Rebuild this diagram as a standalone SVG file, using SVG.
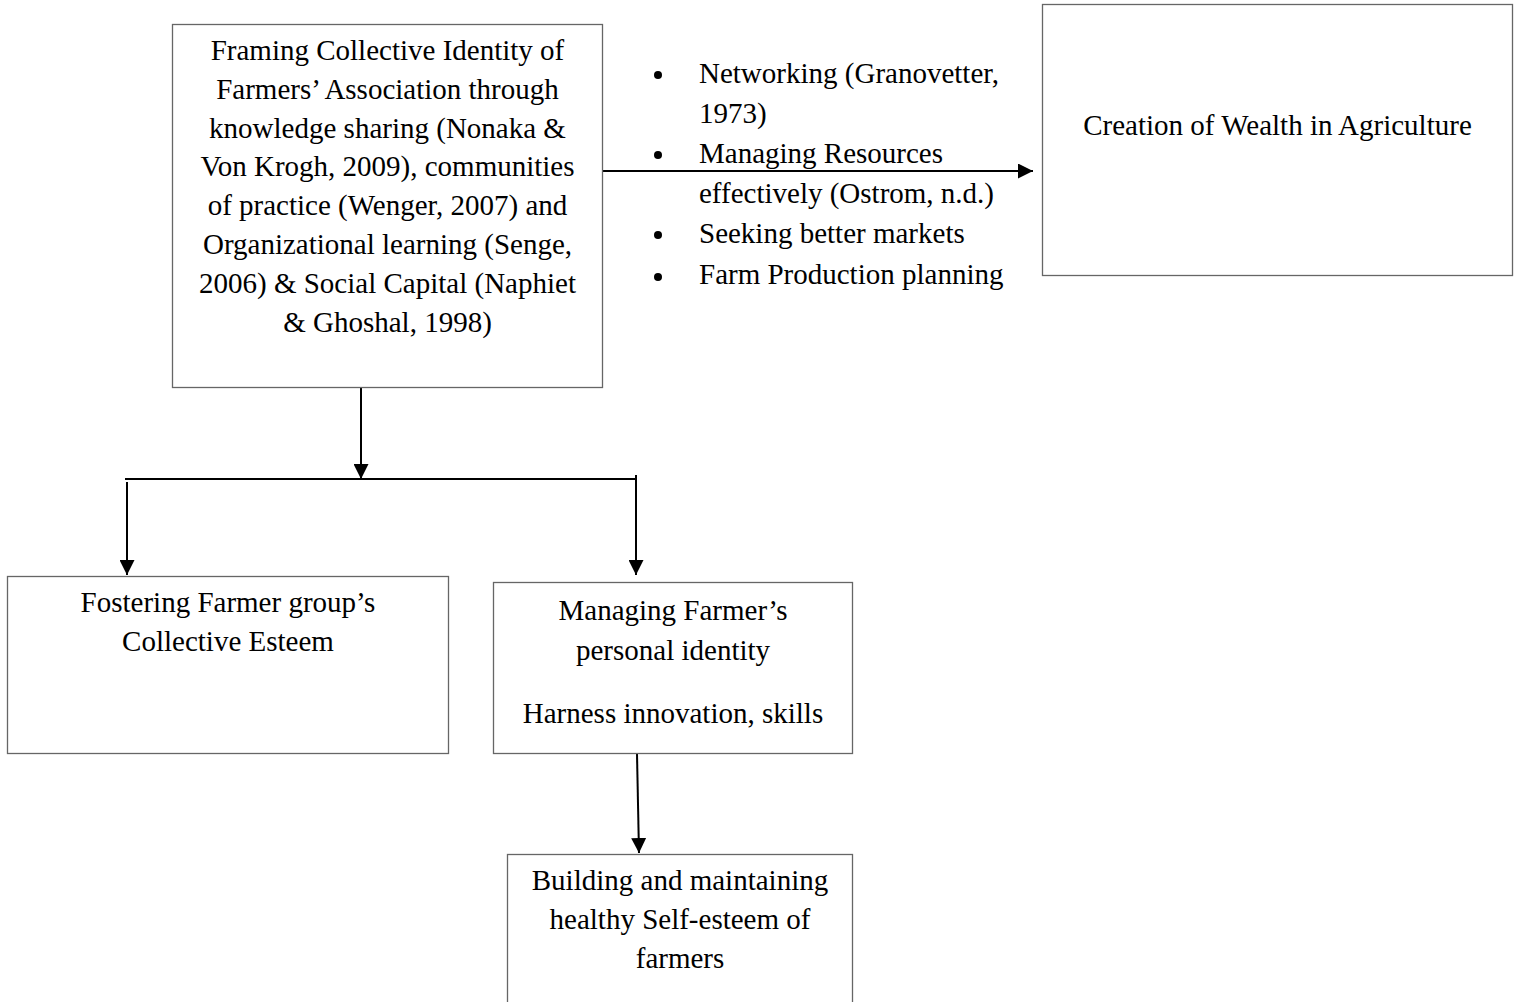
<svg xmlns="http://www.w3.org/2000/svg" width="1518" height="1002" viewBox="0 0 1518 1002">
<style>
  .box { fill: #ffffff; stroke: #666666; stroke-width: 1.3; }
  .t { font-family: "Liberation Serif", "Times New Roman", serif; font-size: 29px; fill: #000000; }
  .c { text-anchor: middle; }
  .conn { stroke: #000000; stroke-width: 2; fill: none; }
  .arr { marker-end: url(#ah); }
</style>
<defs>
  <marker id="ah" viewBox="0 0 15 15" refX="15" refY="7.5" markerWidth="15" markerHeight="15" markerUnits="userSpaceOnUse" orient="auto">
    <path d="M0,0 L15,7.5 L0,15 z" fill="#000000"/>
  </marker>
</defs>
<rect width="1518" height="1002" fill="#ffffff"/>

<g id="connectors">
  <line class="conn arr" x1="603" y1="171" x2="1033" y2="171"/>
  <line class="conn arr" x1="361" y1="388" x2="361" y2="479"/>
  <line class="conn" x1="125" y1="479" x2="637" y2="479"/>
  <line class="conn arr" x1="127" y1="482" x2="127" y2="575"/>
  <line class="conn arr" x1="636" y1="475" x2="636" y2="575"/>
  <line class="conn arr" x1="637" y1="754" x2="639" y2="853"/>
</g>

<g id="node-framing">
  <rect class="box" x="172.5" y="24.5" width="430" height="363"/>
  <text class="t c" x="387.5" y="60">Framing Collective Identity of</text>
  <text class="t c" x="387.5" y="98.8">Farmers’ Association through</text>
  <text class="t c" x="387.5" y="137.6">knowledge sharing (Nonaka &amp;</text>
  <text class="t c" x="387.5" y="176.4">Von Krogh, 2009), communities</text>
  <text class="t c" x="387.5" y="215.2">of practice (Wenger, 2007) and</text>
  <text class="t c" x="387.5" y="254">Organizational learning (Senge,</text>
  <text class="t c" x="387.5" y="292.8">2006) &amp; Social Capital (Naphiet</text>
  <text class="t c" x="387.5" y="331.6">&amp; Ghoshal, 1998)</text>
</g>

<g id="node-bullets">
  <circle cx="658" cy="75" r="4" fill="#000000"/>
  <circle cx="658" cy="155" r="4" fill="#000000"/>
  <circle cx="658" cy="235" r="4" fill="#000000"/>
  <circle cx="658" cy="277" r="4" fill="#000000"/>
  <text class="t" x="699" y="83">Networking (Granovetter,</text>
  <text class="t" x="699" y="123">1973)</text>
  <text class="t" x="699" y="163">Managing Resources</text>
  <text class="t" x="699" y="203">effectively (Ostrom, n.d.)</text>
  <text class="t" x="699" y="243">Seeking better markets</text>
  <text class="t" x="699" y="284">Farm Production planning</text>
</g>

<g id="node-wealth">
  <rect class="box" x="1042.5" y="4.5" width="470" height="271"/>
  <text class="t c" x="1277.5" y="135">Creation of Wealth in Agriculture</text>
</g>

<g id="node-collective-esteem">
  <rect class="box" x="7.5" y="576.5" width="441" height="177"/>
  <text class="t c" x="228" y="612">Fostering Farmer group’s</text>
  <text class="t c" x="228" y="651">Collective Esteem</text>
</g>

<g id="node-personal-identity">
  <rect class="box" x="493.5" y="582.5" width="359" height="171"/>
  <text class="t c" x="673" y="620">Managing Farmer’s</text>
  <text class="t c" x="673" y="660">personal identity</text>
  <text class="t c" x="673" y="723">Harness innovation, skills</text>
</g>

<g id="node-self-esteem">
  <rect class="box" x="507.5" y="854.5" width="345" height="160"/>
  <text class="t c" x="680" y="890">Building and maintaining</text>
  <text class="t c" x="680" y="929">healthy Self-esteem of</text>
  <text class="t c" x="680" y="968">farmers</text>
</g>
</svg>
